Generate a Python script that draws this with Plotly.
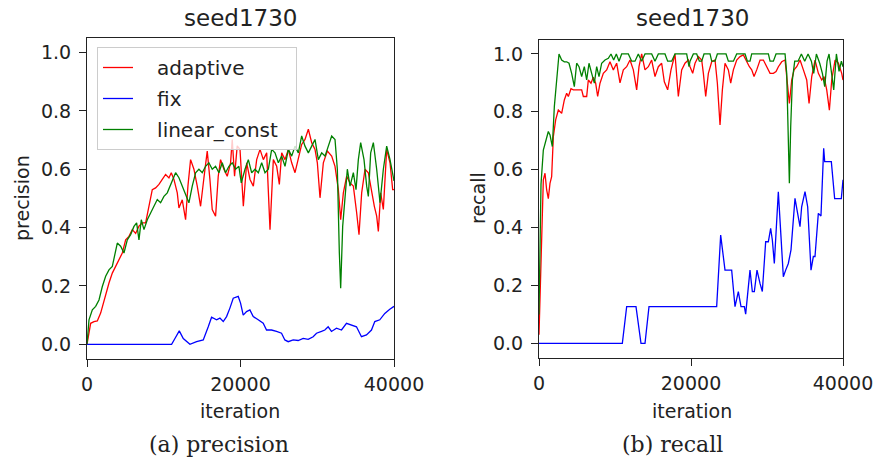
import plotly.graph_objects as go

# ---------------- data ----------------
# precision (left panel)
prec_adaptive_x = [0, 477, 911, 1345, 1779, 2213, 2864, 3298, 3732, 4166, 4600, 5034, 5468, 5902, 6336, 6770, 7204, 7638,
                   8072, 8506, 8940, 9374, 9808, 10242, 10676, 10980, 11327, 11761, 11978, 12412, 12846, 13150, 13497,
                   13931, 14365, 14799, 15233, 15667, 16015, 16318, 16752, 17100, 17403, 17837, 18271, 18705, 18922,
                   19226, 19573, 19936, 20370, 20805, 21239, 21673, 22108, 22542, 22976, 23411, 23845, 24279, 24714,
                   25061, 25365, 25799, 26234, 26668, 27102, 27537, 27971, 28405, 28840, 29274, 29708, 30012, 30360,
                   30794, 31315, 31880, 32314, 32748, 33052, 33400, 33834, 34268, 34703, 35137, 35441, 35788, 36223,
                   36657, 37091, 37439, 37743, 37960, 38264, 38611, 39046, 39480, 39827, 40000]
prec_adaptive_y = [0.0, 0.072, 0.078, 0.08, 0.107, 0.152, 0.21, 0.244, 0.267, 0.29, 0.313, 0.358, 0.37, 0.393, 0.38, 0.405,
                   0.416, 0.416, 0.473, 0.53, 0.536, 0.548, 0.565, 0.582, 0.57, 0.588, 0.565, 0.519, 0.467, 0.495, 0.427,
                   0.542, 0.633, 0.6, 0.542, 0.473, 0.57, 0.662, 0.565, 0.462, 0.439, 0.576, 0.633, 0.6, 0.576, 0.622,
                   0.702, 0.576, 0.68, 0.668, 0.473, 0.622, 0.565, 0.542, 0.633, 0.668, 0.633, 0.656, 0.393, 0.633, 0.61,
                   0.548, 0.656, 0.633, 0.668, 0.622, 0.588, 0.633, 0.685, 0.702, 0.737, 0.691, 0.668, 0.622, 0.502,
                   0.622, 0.662, 0.645, 0.61, 0.53, 0.427, 0.519, 0.576, 0.553, 0.542, 0.45, 0.376, 0.519, 0.6, 0.588,
                   0.519, 0.473, 0.439, 0.387, 0.519, 0.462, 0.668, 0.622, 0.53, 0.53]

prec_fix_x = [0, 11024, 11458, 12022, 12543, 13411, 14279, 15147, 15798, 16232, 16883, 17317, 17751, 18185, 18619, 19053,
              19704, 20007, 20355, 20789, 21223, 21657, 22308, 22959, 23393, 24044, 24695, 25346, 25780, 26214, 26865,
              27516, 28167, 28818, 29469, 29903, 30554, 30988, 31422, 31856, 32507, 33158, 33809, 34460, 35111, 35762,
              36413, 37064, 37498, 38149, 38800, 39451, 40000]
prec_fix_y = [0.0, 0.0, 0.02, 0.046, 0.02, 0.0, 0.009, 0.015, 0.06, 0.093, 0.084, 0.09, 0.078, 0.095, 0.124, 0.158,
              0.164, 0.141, 0.1, 0.112, 0.118, 0.095, 0.084, 0.072, 0.049, 0.049, 0.044, 0.038, 0.015, 0.009, 0.015,
              0.013, 0.02, 0.017, 0.026, 0.038, 0.044, 0.049, 0.06, 0.044, 0.055, 0.049, 0.072, 0.066, 0.06, 0.026,
              0.032, 0.049, 0.078, 0.084, 0.106, 0.12, 0.13]

prec_linear_x = [0, 260, 694, 1128, 1562, 1996, 2430, 2864, 3298, 3949, 4383, 4817, 5251, 5685, 6119, 6467, 6770, 7074,
                 7421, 7855, 8289, 8723, 9157, 9591, 10025, 10459, 10807, 11110, 11544, 11978, 12412, 12846, 13280,
                 13714, 14148, 14582, 15016, 15450, 15884, 16318, 16752, 17186, 17620, 18054, 18488, 18922, 19356,
                 19790, 20100, 20587, 21022, 21456, 21890, 22325, 22759, 23193, 23628, 24062, 24496, 24931, 25365,
                 25799, 26234, 26668, 27102, 27537, 27971, 28405, 28840, 29274, 29708, 30143, 30577, 31011, 31446,
                 31880, 32314, 32618, 32879, 33052, 33313, 33617, 33921, 34268, 34703, 35050, 35354, 35658, 36092,
                 36440, 36657, 36961, 37309, 37743, 38177, 38611, 39046, 39480, 39827, 40000]
prec_linear_y = [0.0, 0.084, 0.118, 0.13, 0.152, 0.198, 0.233, 0.255, 0.267, 0.347, 0.336, 0.313, 0.358, 0.376, 0.404,
                 0.416, 0.358, 0.427, 0.393, 0.427, 0.45, 0.473, 0.496, 0.485, 0.507, 0.519, 0.542, 0.565, 0.588, 0.571,
                 0.542, 0.519, 0.485, 0.542, 0.588, 0.6, 0.588, 0.61, 0.622, 0.6, 0.61, 0.588, 0.622, 0.588, 0.61, 0.622,
                 0.6, 0.61, 0.553, 0.6, 0.633, 0.588, 0.6, 0.588, 0.622, 0.588, 0.6, 0.668, 0.656, 0.622, 0.645, 0.61,
                 0.668, 0.645, 0.679, 0.656, 0.714, 0.679, 0.656, 0.679, 0.702, 0.633, 0.656, 0.645, 0.679, 0.714,
                 0.702, 0.6, 0.313, 0.192, 0.404, 0.507, 0.6, 0.542, 0.588, 0.53, 0.633, 0.691, 0.633, 0.542, 0.507,
                 0.656, 0.691, 0.6, 0.485, 0.6, 0.679, 0.633, 0.588, 0.56]

# recall (right panel)
rec_adaptive_x = [0, 570, 789, 1008, 1227, 1446, 1665, 1886, 2193, 2544, 2982, 3333, 3640, 3860, 4211, 4518, 4956, 5614,
                  5833, 6272, 6491, 6842, 7149, 7456, 7719, 8026, 8465, 8904, 9342, 9781, 10219, 10658, 11097, 11535,
                  11974, 12412, 12851, 13158, 13509, 13947, 14386, 14825, 15263, 15702, 16140, 16491, 16930, 17369,
                  17895, 18333, 18772, 19211, 19649, 19872, 20223, 20530, 20968, 21407, 21627, 21934, 22285, 22724,
                  23162, 23469, 23820, 24127, 24478, 24917, 25224, 25575, 26014, 26452, 26891, 27330, 27681, 27988,
                  28295, 28646, 29085, 29523, 29962, 30401, 30839, 31190, 31498, 31936, 32375, 32682, 32945, 33252,
                  33559, 33910, 34349, 34788, 35226, 35533, 35884, 36323, 36762, 37200, 37507, 37858, 38209, 38516,
                  38955, 39393, 39832, 40000]
rec_adaptive_y = [0.03, 0.565, 0.588, 0.53, 0.5, 0.553, 0.576, 0.714, 0.772, 0.806, 0.795, 0.841, 0.864, 0.853, 0.88,
                  0.876, 0.876, 0.876, 0.853, 0.853, 0.91, 0.899, 0.92, 0.899, 0.853, 0.899, 0.933, 0.945, 0.973, 0.945,
                  0.968, 0.9, 0.945, 0.956, 0.979, 0.945, 0.876, 0.956, 1.0, 0.945, 0.956, 0.979, 0.922, 0.956, 0.968,
                  0.904, 0.876, 0.945, 1.0, 0.853, 0.945, 0.968, 0.979, 0.956, 0.933, 0.968, 0.991, 0.979, 0.933,
                  0.853, 0.933, 0.973, 0.979, 0.899, 0.755, 0.876, 0.968, 0.945, 0.899, 0.945, 0.979, 0.991, 0.997,
                  0.973, 0.956, 0.945, 0.922, 0.945, 0.979, 0.979, 0.956, 0.933, 0.933, 0.939, 0.956, 0.973, 0.979,
                  0.899, 0.829, 0.91, 0.945, 0.956, 0.979, 0.945, 0.91, 0.829, 0.922, 0.979, 0.933, 0.91, 0.922, 0.876,
                  0.806, 0.91, 0.979, 0.968, 0.933, 0.91]

rec_fix_x = [0, 10965, 11535, 12763, 13421, 13947, 14474, 23377, 23904, 24474, 25351, 25789, 26228, 26579, 27017, 27193,
             27763, 28070, 28333, 28684, 29079, 29386, 29825, 30175, 30482, 30702, 30965, 31491, 31842, 32149, 32456,
             32807, 33158, 33684, 33947, 34342, 34561, 35000, 35351, 35790, 36097, 36316, 36754, 37100, 37458, 37590,
             38465, 38903, 39779, 40000]
rec_fix_y = [0.0, 0.0, 0.127, 0.127, 0.0, 0.0, 0.127, 0.127, 0.374, 0.253, 0.253, 0.127, 0.179, 0.127, 0.127, 0.101,
             0.253, 0.179, 0.179, 0.253, 0.207, 0.179, 0.351, 0.351, 0.397, 0.357, 0.276, 0.524, 0.368, 0.23, 0.253,
             0.276, 0.323, 0.501, 0.461, 0.403, 0.472, 0.524, 0.472, 0.253, 0.3, 0.3, 0.449, 0.44, 0.674, 0.628, 0.628,
             0.5, 0.5, 0.565]

rec_linear_x = [0, 263, 570, 877, 1228, 1447, 1754, 2018, 2325, 2632, 2982, 3333, 3640, 3947, 4298, 4649, 4956, 5263,
                5614, 5965, 6272, 6579, 6930, 7281, 7588, 7895, 8246, 8684, 9123, 9474, 9825, 10175, 10526, 10877,
                11754, 12193, 12632, 13070, 13509, 13947, 14825, 15263, 15702, 16579, 16930, 17456, 17895, 19430,
                19737, 19872, 20311, 20749, 21100, 21407, 21714, 22504, 22724, 23162, 23469, 24610, 24917, 25575,
                26014, 27110, 27418, 27769, 27988, 30182, 30401, 30839, 31190, 32375, 32594, 32857, 32945, 33120,
                33340, 33647, 34086, 34524, 34963, 35402, 35840, 36147, 36498, 36937, 37288, 37595, 37902, 38165,
                38472, 38779, 39130, 39481, 39788, 40000]
rec_linear_y = [0.1, 0.55, 0.668, 0.703, 0.732, 0.72, 0.68, 0.818, 0.91, 1.0, 0.979, 0.973, 0.973, 0.968, 0.933, 0.887,
                0.968, 0.956, 0.922, 0.956, 0.91, 0.968, 0.933, 0.899, 0.956, 0.922, 0.968, 0.979, 0.985, 1.0, 0.979,
                1.0, 0.975, 1.0, 1.0, 0.975, 0.975, 1.0, 0.975, 1.0, 1.0, 0.975, 1.0, 1.0, 0.975, 0.975, 1.0, 1.0,
                0.956, 0.975, 1.0, 1.0, 0.975, 0.975, 1.0, 1.0, 0.975, 0.975, 1.0, 1.0, 0.975, 0.975, 1.0, 1.0, 0.975,
                0.975, 1.0, 1.0, 0.975, 0.975, 1.0, 1.0, 0.933, 0.7, 0.553, 0.75, 0.91, 0.975, 0.975, 1.0, 0.975, 1.0,
                0.975, 0.933, 1.0, 0.968, 0.933, 0.887, 0.975, 1.0, 0.933, 0.876, 1.0, 0.94, 0.975, 0.956]

series_names = ["adaptive", "fix", "linear_const"]
series_colors = ["#ff0000", "#0000ff", "#008000"]
x_ticks = [0, 20000, 40000]
y_ticks = [0.0, 0.2, 0.4, 0.6, 0.8, 1.0]
panel_title = "seed1730"
captions = ["(a) precision", "(b) recall"]

# ---------------- figure ----------------
W, H = 877, 459

def px(sx):   # pixel x -> paper fraction
    return sx / W

def py(sy):   # pixel y (from top) -> paper fraction
    return 1 - sy / H

fig = go.Figure()

left = [(prec_adaptive_x, prec_adaptive_y), (prec_fix_x, prec_fix_y), (prec_linear_x, prec_linear_y)]
right = [(rec_adaptive_x, rec_adaptive_y), (rec_fix_x, rec_fix_y), (rec_linear_x, rec_linear_y)]

NB = "\u00a0"
for (xs, ys), name, col in zip(left, series_names, series_colors):
    fig.add_trace(go.Scatter(x=xs, y=ys, mode="lines", name=NB * 3 + name + NB * 2, legendgroup=name,
                             line=dict(color=col, width=1.3), xaxis="x", yaxis="y", showlegend=True))
for (xs, ys), name, col in zip(right, series_names, series_colors):
    fig.add_trace(go.Scatter(x=xs, y=ys, mode="lines", name=name, legendgroup=name,
                             line=dict(color=col, width=1.3), xaxis="x2", yaxis="y2", showlegend=False))

FONT = "DejaVu Sans"
tick_font = dict(family=FONT, size=19, color="#222")

def xax(domain, anchor):
    return dict(domain=domain, anchor=anchor, range=[0, 40000], tickvals=x_ticks,
                ticktext=[str(v) for v in x_ticks], ticks="outside", ticklen=7, tickwidth=1,
                tickcolor="#222", showline=True, mirror=True, linecolor="#222", linewidth=1,
                showgrid=False, zeroline=False, tickfont=tick_font, ticklabelstandoff=1)

def yax(domain, anchor):
    return dict(domain=domain, anchor=anchor, range=[-0.05, 1.05], tickvals=y_ticks,
                ticktext=[f"{v:.1f}" for v in y_ticks], ticks="outside", ticklen=7, tickwidth=1,
                tickcolor="#222", showline=True, mirror=True, linecolor="#222", linewidth=1,
                showgrid=False, zeroline=False, tickfont=tick_font, ticklabelstandoff=4)

fig.update_layout(
    width=W, height=H, margin=dict(l=0, r=0, t=0, b=0, autoexpand=False),
    paper_bgcolor="white", plot_bgcolor="white",
    xaxis=xax([px(87), px(394)], "y"),
    yaxis=yax([py(358.9), py(37.9)], "x"),
    xaxis2=xax([px(539), px(843)], "y2"),
    yaxis2=yax([py(357.8), py(39.5)], "x2"),
    legend=dict(x=px(97), y=py(47), xanchor="left", yanchor="top", tracegroupgap=2,
                bgcolor="rgba(255,255,255,0.8)", bordercolor="#cccccc", borderwidth=1,
                font=dict(family=FONT, size=20, color="#222")),
    font=dict(family=FONT, color="#222"),
)

def ann(text, x, y, size=19, family=FONT, angle=0):
    fig.add_annotation(text=text, x=px(x), y=py(y), xref="paper", yref="paper",
                       xanchor="center", yanchor="middle", showarrow=False, textangle=angle,
                       font=dict(family=family, size=size, color="#222"))

ann(panel_title, 240, 18, size=23)
ann(panel_title, 692, 18, size=23)
ann("iteration", 240, 411)
ann("iteration", 692, 411)
ann("precision", 22, 198, angle=-90)
ann("recall", 478, 198, angle=-90)
ann(captions[0], 219, 444, size=22, family="DejaVu Serif")
ann(captions[1], 672, 444, size=22, family="DejaVu Serif")

# remove the browser's default 8px page margin so the figure fills the window
fig.write_html("out.html", config={"displayModeBar": False},
               post_script="document.body.style.margin='0px';document.body.style.overflow='hidden';")
